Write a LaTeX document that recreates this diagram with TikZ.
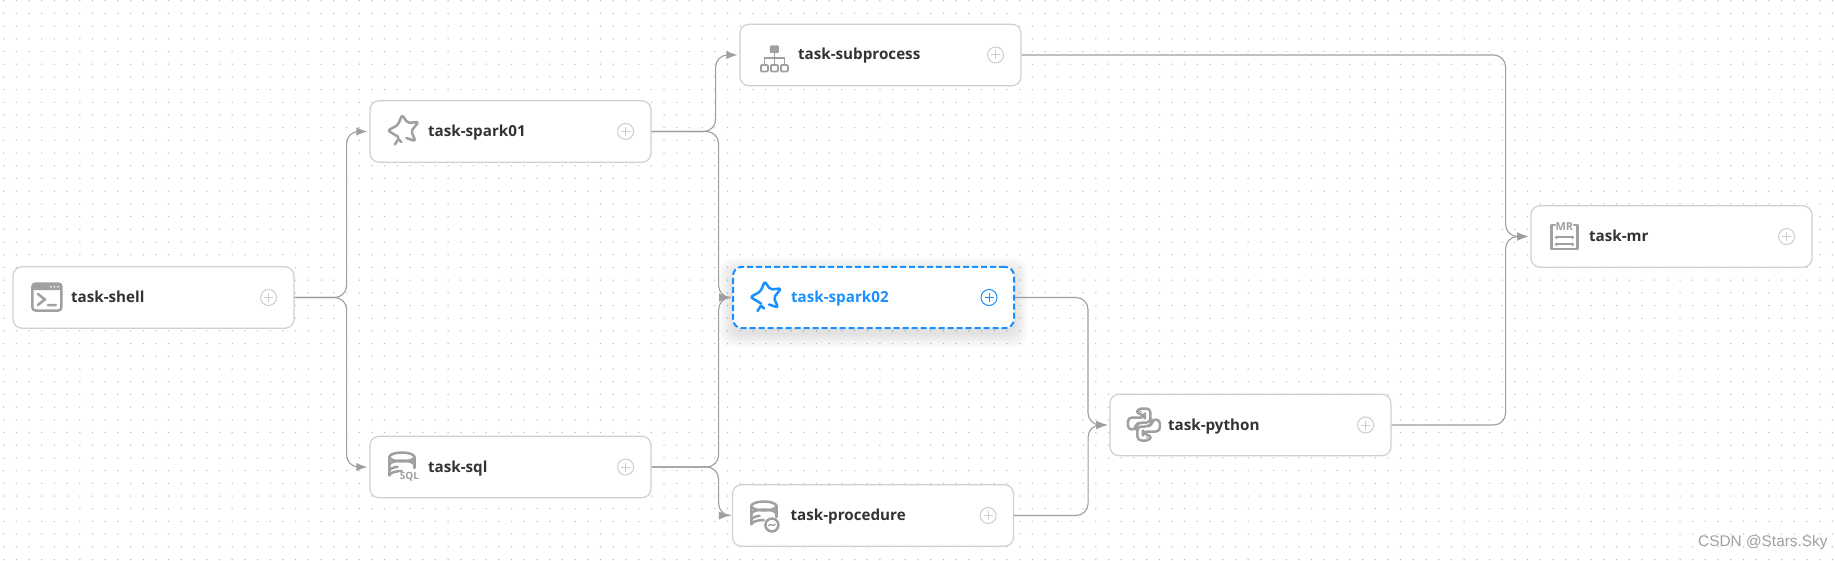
\documentclass[tikz,border=0pt]{standalone}
\usepackage{fontspec}
\setmainfont{Open Sans}
\usepackage{xcolor}
\usetikzlibrary{arrows.meta,calc}
\definecolor{nodeline}{RGB}{208,208,208}
\definecolor{edgegray}{RGB}{158,158,158}
\definecolor{icongray}{RGB}{160,160,160}
\definecolor{addgray}{RGB}{205,205,205}
\definecolor{griddot}{RGB}{188,188,188}
\definecolor{labeltext}{RGB}{51,51,51}
\definecolor{activeblue}{RGB}{24,144,255}
\definecolor{marktext}{RGB}{160,160,160}
\tikzset{
  icn/.style={draw=#1,line width=1.25pt,line join=round,line cap=round},
  addbtn/.pic={
    \draw[#1,line width=.5pt] (0,0) circle (8);
    \draw[#1,line width=.5pt] (-4.5,0)--(4.5,0) (0,-4.5)--(0,4.5);
  },
  sparkicon/.pic={
    \draw[icn=#1,rounded corners=1pt] (-5,6.5)--(-15.5,0)--(-5.5,-5.5)--(-1.3,-15.5)--(4.3,-7.5)--(15,-8.5)--(7.8,.7)--(12,10.5)--(3,7.5);
    \draw[icn=#1] (-8.5,14)--(-5,8.5)--(-2,11.5);
  },
  shellicon/.pic={
    \draw[icn=icongray,rounded corners=1.5] (-14.5,-13.5) rectangle (14.5,13.5);
    \fill[icongray,rounded corners=1] (-14.5,-13.5) rectangle (14.5,-7);
    \fill[white] (4,-10.2) circle (.9) (7.5,-10.2) circle (.9) (11,-10.2) circle (.9);
    \draw[icn=icongray] (-9,-3)--(-2,2.5)--(-9,8) (1,8)--(9,8);
  },
  subicon/.pic={
    \fill[icongray,rounded corners=.5] (-4.5,-9.5) rectangle (4.5,-2);
    \draw[icongray,line width=.9pt] (0,-2)--(0,5) (-10,10)--(-10,3)--(10,3)--(10,10) (0,3)--(0,10);
    \draw[icongray,line width=.9pt,rounded corners=.5,fill=white] (-13.5,10) rectangle (-6.5,16.5) (-3.5,10) rectangle (3.5,16.5) (6.5,10) rectangle (13.5,16.5);
  },
  drumicon/.pic={
    \draw[icn=icongray] (-12.5,-9) arc[start angle=180,end angle=-180,x radius=12.5,y radius=4.5];
    \draw[icn=icongray] (-12.5,-9)--(-12.5,9.5) arc[start angle=180,end angle=270,x radius=12.5,y radius=4.5];
    \draw[icn=icongray] (12.5,-9)--(12.5,2);
    \draw[icn=icongray] (-12.5,-1) arc[start angle=180,end angle=360,x radius=12.5,y radius=4.5];
    \draw[icn=icongray] (-12.5,5) arc[start angle=180,end angle=250,x radius=12.5,y radius=4.5];
  },
  pyicon/.pic={
    \draw[icn=icongray,rounded corners=2pt] (-6.5,-16)--(6.5,-16)--(6.5,-2)--(-5,-2)--(-8,1)--(-8,5)--(-16,5)--(-16,-7)--(1,-7)--(1,-10)--(-6.5,-10)--cycle;
    \draw[icn=icongray,rounded corners=2pt] (6.5,16)--(-6.5,16)--(-6.5,2)--(5,2)--(8,-1)--(8,-5)--(16,-5)--(16,7)--(-1,7)--(-1,10)--(6.5,10)--cycle;
    \fill[icongray] (-3,-13) circle (1) (3,13) circle (1);
  },
  mricon/.pic={
    \draw[icn=icongray] (-9.5,-12)--(-13,-12)--(-13,12)--(13,12)--(13,-12)--(9.5,-12);
    \draw[icongray,line width=.8pt] (-8,.3)--(8,.3) (-8,7.3)--(8,7.3);
    \fill[icongray] (-8,.3) circle (1.8) (8,.3) circle (1.8) (-8,7.3) circle (1.8) (8,7.3) circle (1.8);
    \node[iconlabel,font=\bfseries\fontsize{5.5pt}{6pt}\selectfont] (mrtext) at (0,-10) {MR};
  },
  iconlabel/.style={inner sep=0pt,text=icongray},
  elbow/.style={to path={-- ++(#1,0) |- (\tikztotarget)}}
}
\begin{document}
\begin{tikzpicture}[x=.5pt,y=-.5pt,>=Latex]
\tikzstyle{task}=[draw=nodeline,line width=.6pt,fill=white,rounded corners=4.5pt,minimum width=140.5pt,minimum height=30.7pt,text width=82.5pt,inner xsep=0pt,inner ysep=0pt,align=left,text height=7pt,text depth=2pt,text=labeltext,font=\bfseries\fontsize{7.6pt}{9pt}\selectfont]
\tikzstyle{edge}=[->,draw=edgegray,line width=.55pt,rounded corners=6pt,shorten >=1pt]
\useasboundingbox (0,0) rectangle (1835,561);
\fill[white] (0,0) rectangle (1835,561);
\foreach \i in {0,...,144}
  \foreach \j in {0,...,44}
    \fill[griddot] (3.6+12.7*\i,.7+12.7*\j) circle (.75);
\foreach \s in {14,12,10,8,6,4,2}
  \fill[black,opacity=.016,rounded corners=6pt] (733-\s,267-\s+5) rectangle (1014+\s,328+\s+5);
\node[task] (shell) at (153.5,297.5) {task-shell};
\node[task] (spark01) at (510.5,131.5) {task-spark01};
\node[task] (subprocess) at (880.5,55) {task-subprocess};
\node[task,draw=activeblue,line width=1pt,dash pattern=on 3pt off 1.5pt,text=activeblue] (spark02) at (873.5,297.5) {task-spark02};
\node[task] (sql) at (510.5,467) {task-sql};
\node[task] (procedure) at (873,515.5) {task-procedure};
\node[task] (python) at (1250.5,425) {task-python};
\node[task] (mr) at (1671.5,236.5) {task-mr};
\draw[edge] (shell.east) to[elbow=52] (spark01.west);
\draw[edge] (shell.east) to[elbow=52] (sql.west);
\draw[edge] (spark01.east) to[elbow=64] (subprocess.west);
\draw[edge] (spark01.east) to[elbow=67] (spark02.west);
\draw[edge] (sql.east) to[elbow=67] (spark02.west);
\draw[edge] (sql.east) to[elbow=67] (procedure.west);
\draw[edge] (spark02.east) to[elbow=73] (python.west);
\draw[edge] (procedure.east) to[elbow=74] (python.west);
\draw[edge] (subprocess.east) to[elbow=484] (mr.west);
\draw[edge] (python.east) to[elbow=114] (mr.west);
\foreach \n in {shell,spark01,subprocess,sql,procedure,python,mr}
  \pic at ($(\n.east)+(-26,0)$) {addbtn=addgray};
\pic at ($(spark02.east)+(-26,0)$) {addbtn=activeblue};
\pic at ($(shell.west)+(34.5,-.5)$) {shellicon};
\pic at ($(spark01.west)+(34,-1)$) {sparkicon=icongray};
\pic at ($(subprocess.west)+(35,0)$) {subicon};
\pic at ($(spark02.west)+(34,-.5)$) {sparkicon=activeblue};
\pic at ($(sql.west)+(32.5,-1)$) {drumicon};
\node[iconlabel,font=\bfseries\fontsize{5pt}{6pt}\selectfont,fill=white,inner sep=.5pt] (sqltext) at ($(sql.west)+(40,10)$) {SQL};
\pic at ($(procedure.west)+(32,-.5)$) {drumicon};
\draw[icn=icongray,fill=white] ($(procedure.west)+(40,9.5)$) circle (6.5);
\draw[icongray,line width=.7pt] ($(procedure.west)+(36.5,10.5)$) .. controls ($(procedure.west)+(38.5,6.5)$) and ($(procedure.west)+(41.5,12.5)$) .. ($(procedure.west)+(43.5,8.5)$);
\pic at ($(python.west)+(34.5,-.5)$) {pyicon};
\pic at ($(mr.west)+(34,0.5)$) {mricon};
\node[text=marktext,font=\fontspec{Liberation Sans}\fontsize{7.7pt}{10pt}\selectfont,inner sep=0pt,anchor=east] (csdnmark) at (1828,543) {CSDN @Stars.Sky};
\end{tikzpicture}
\end{document}
